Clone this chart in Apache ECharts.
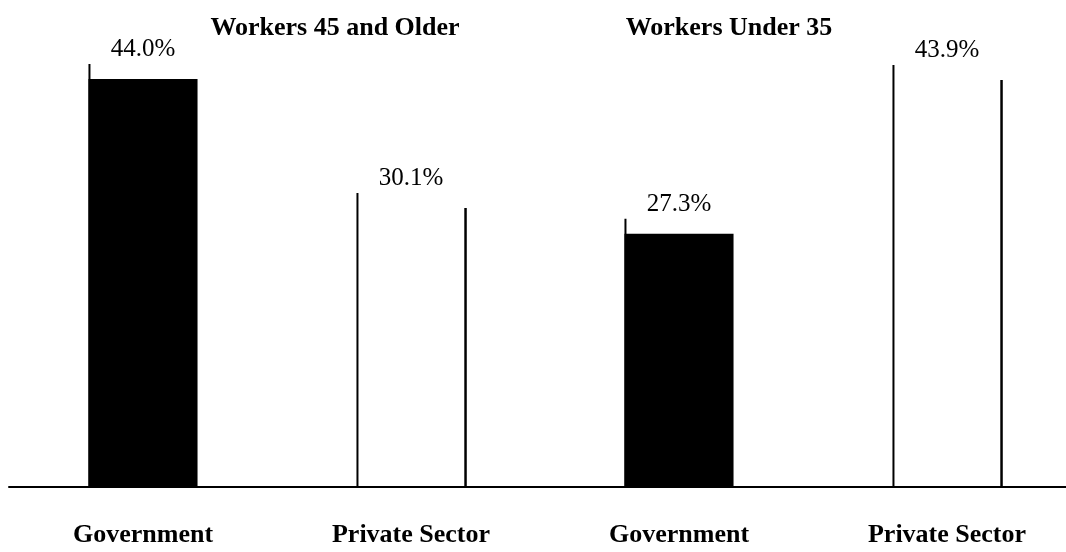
<!DOCTYPE html>
<html>
<head>
<meta charset="utf-8">
<script src="https://cdn.jsdelivr.net/npm/echarts@6/dist/echarts.min.js"></script>
<style>
  html, body { margin: 0; padding: 0; background: #fff; }
  #chart { width: 1066px; height: 552px; }
</style>
</head>
<body>
<div id="chart"></div>
<script>
// Share of workers by age group, government vs. private sector
const categories = ['Government', 'Private Sector', 'Government', 'Private Sector'];
const shares = [44.0, 30.1, 27.3, 43.9];
const fills = ['solid', 'open', 'solid', 'open'];
const groupTitles = ['Workers 45 and Older', 'Workers Under 35'];

const SERIF = '"Liberation Serif", "Times New Roman", Times, serif';

const chart = echarts.init(document.getElementById('chart'));

const seriesData = shares.map((v, i) => [i, v, fills[i] === 'solid' ? 1 : 0]);

function renderBar(params, api) {
  const idx = api.value(0);
  const val = api.value(1);
  const solid = api.value(2) === 1;
  const base = api.coord([idx, 0]);
  const top = api.coord([idx, val]);
  const w = api.size([1, 0])[0] * 0.407;
  const x0 = base[0] - w / 2;
  const x1 = base[0] + w / 2;
  const lead = 15; // left edge rises a little above the bar top
  const children = [];
  if (solid) {
    children.push({
      type: 'rect',
      shape: { x: x0, y: top[1], width: w, height: base[1] - top[1] },
      style: { fill: '#000' }
    });
  } else {
    children.push({
      type: 'line',
      shape: { x1: x1, y1: top[1], x2: x1, y2: base[1] },
      style: { stroke: '#000', lineWidth: 2.5 }
    });
  }
  children.push({
    type: 'line',
    shape: { x1: x0 + 1, y1: top[1] - lead, x2: x0 + 1, y2: base[1] },
    style: { stroke: '#000', lineWidth: 2 }
  });
  children.push({
    type: 'text',
    style: {
      x: base[0],
      y: top[1] - lead - 2,
      text: val.toFixed(1) + '%',
      align: 'center',
      verticalAlign: 'bottom',
      fill: '#000',
      font: '25px ' + SERIF
    }
  });
  return { type: 'group', children: children };
}

chart.setOption({
  animation: false,
  backgroundColor: '#fff',
  grid: {
    left: 9, width: 1072, top: 23.4, bottom: 65,
    containLabel: false,
    outerBoundsMode: 'none'
  },
  xAxis: {
    type: 'category',
    data: categories,
    axisLine: { show: true, lineStyle: { color: '#000', width: 2 } },
    axisTick: { show: false },
    axisLabel: {
      margin: 35,
      color: '#000',
      fontFamily: SERIF,
      fontWeight: 'bold',
      fontSize: 26
    },
    splitLine: { show: false }
  },
  yAxis: {
    type: 'value',
    min: 0,
    max: 50,
    show: false
  },
  graphic: [
    {
      type: 'text',
      x: 335, y: 28,
      style: { text: groupTitles[0], font: 'bold 26px ' + SERIF, fill: '#000', align: 'center', verticalAlign: 'middle' }
    },
    {
      type: 'text',
      x: 729, y: 28,
      style: { text: groupTitles[1], font: 'bold 26px ' + SERIF, fill: '#000', align: 'center', verticalAlign: 'middle' }
    }
  ],
  series: [{
    type: 'custom',
    renderItem: renderBar,
    encode: { x: 0, y: 1 },
    data: seriesData,
    clip: false
  }]
});
</script>
</body>
</html>
